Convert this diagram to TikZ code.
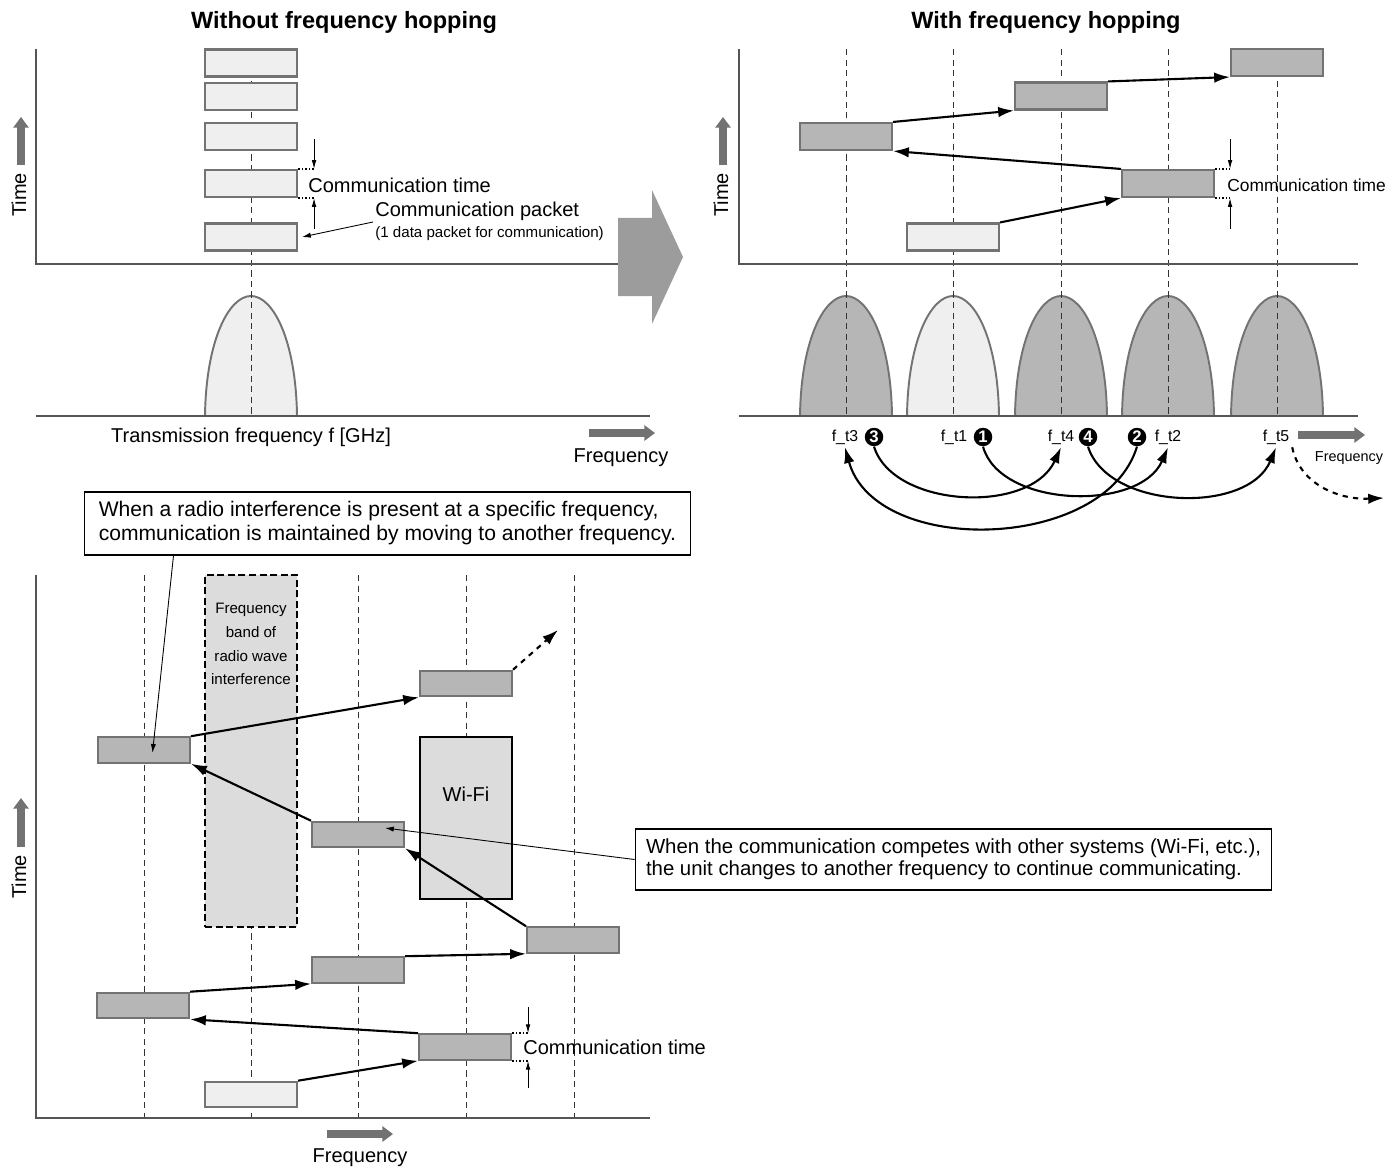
\documentclass[tikz,border=0pt]{standalone}
\usepackage{fontspec}
\setmainfont{Liberation Sans}
\usetikzlibrary{arrows.meta,positioning}
\definecolor{pktdark}{HTML}{B6B6B6}
\definecolor{pktlight}{HTML}{EFEFEF}
\definecolor{pktline}{HTML}{737373}
\definecolor{bandfill}{HTML}{DCDCDC}
\definecolor{axisline}{HTML}{555555}
\definecolor{tipgray}{HTML}{727272}
\definecolor{hopgray}{HTML}{9C9C9C}
\begin{document}
\begin{tikzpicture}[x=0.02cm,y=-0.02cm,
  pkt/.style={draw=pktline,line width=1.2pt,fill=pktdark,inner sep=0pt,minimum width=1.84cm,minimum height=0.54cm},
  pktlo/.style={pkt,minimum height=0.51cm},
  hop/.style={line width=1.2pt,-{Latex[length=9pt,width=6pt]}},
  ptr/.style={line width=0.5pt,-{Latex[length=5pt,width=3pt]}},
  dimarr/.style={line width=0.5pt,-{Latex[length=5pt,width=2.6pt]}},
  dotln/.style={line width=1pt,dash pattern=on 1pt off 1pt},
  guide/.style={draw=black!80,line width=0.5pt,dash pattern=on 3.5pt off 2.5pt},
  axisln/.style={draw=axisline,line width=0.9pt},
  bigtip/.style={draw=tipgray,line width=5pt,-{Triangle[length=6pt,width=8.5pt]}},
  bell/.style={draw=pktline,line width=1.1pt},
  band/.style={draw,fill=bandfill,line width=1.4pt,dash pattern=on 4pt off 2pt,inner sep=0pt},
  wifi/.style={draw,fill=bandfill,line width=1.4pt,inner sep=0pt},
  txt/.style={inner sep=0pt,font=\fontsize{11.4}{13.7}\selectfont},
  ttl/.style={inner sep=0pt,font=\fontsize{13.4}{16}\selectfont\bfseries},
  note/.style={inner sep=0pt,font=\fontsize{8.6}{13.6}\selectfont},
  fnote/.style={inner sep=1.5pt,font=\fontsize{9}{10}\selectfont},
  notebox/.style={draw,line width=0.6pt,align=left,inner sep=0pt},
  num/.style={circle,fill=black,text=white,inner sep=0pt,minimum size=0.37cm,font=\fontsize{9.5}{10}\selectfont\bfseries}
]
\useasboundingbox (0,0) rectangle (1399,1169);

\node[ttl] (ttlw) at (344,22) {Without frequency hopping};
\draw[bell,fill=pktlight] (205,416) .. controls (206,340) and (229,296) .. (251,296) .. controls (273,296) and (296,340) .. (297,416);
\draw[guide] (251,49) -- (251,416);
\draw[axisln] (36,49) -- (36,264) -- (640,264);
\draw[axisln] (36,416) -- (650,416);
\node[pkt,fill=pktlight] (w1) at (251,63) {};
\node[pkt,fill=pktlight] (w2) at (251,96.5) {};
\node[pkt,fill=pktlight] (w3) at (251,136.5) {};
\node[pkt,fill=pktlight] (w4) at (251,183.5) {};
\node[pkt,fill=pktlight] (w5) at (251,237) {};
\coordinate (wct1) at ([xshift=0.32cm]w4.north east);
\coordinate (wct2) at ([xshift=0.32cm]w4.south east);
\draw[dotln] (w4.north east) -- (wct1);
\draw[dotln] (w4.south east) -- (wct2);
\draw[dimarr] ([yshift=0.6cm]wct1) -- (wct1);
\draw[dimarr] ([yshift=-0.62cm]wct2) -- (wct2);
\node[txt,anchor=west] (wct) at (308,185) {Communication time};
\node[txt,anchor=west] (cpk) at (375,211) {Communication packet};
\node[note,anchor=west] (cpk2) at (375,234) {(1 data packet for communication)};
\draw[ptr] ([xshift=-0.04cm,yshift=-0.22cm]cpk.west) -- ([xshift=0.08cm]w5.east);
\node[txt,rotate=90] (tm1) at (19,195) {Time};
\draw[bigtip] (21,165) -- (21,117);
\node[txt] (tf) at (251,437) {Transmission frequency f [GHz]};
\draw[bigtip] (589,433) -- (655,433);
\node[txt] (fq1) at (621,458) {Frequency};
\fill[hopgray] (618,218) -- (652,218) -- (652,190) -- (683,257) -- (652,324) -- (652,296) -- (618,296) -- cycle;

\node[ttl] (ttlh) at (1046,22) {With frequency hopping};
\foreach \cx/\cf in {846/pktdark,953/pktlight,1061/pktdark,1168/pktdark,1277/pktdark}
  \draw[bell,fill=\cf] (\cx-46,416) .. controls (\cx-45,340) and (\cx-22,296) .. (\cx,296) .. controls (\cx+22,296) and (\cx+45,340) .. (\cx+46,416);
\foreach \cx in {846,953,1061,1168,1277}
  \draw[guide] (\cx,49) -- (\cx,416);
\draw[axisln] (739,49) -- (739,264) -- (1358,264);
\draw[axisln] (739,416) -- (1358,416);
\node[pkt,fill=pktlight] (h1) at (953,237) {};
\node[pkt] (h2) at (1168,183.5) {};
\node[pkt] (h3) at (846,136.5) {};
\node[pkt] (h4) at (1061,96) {};
\node[pkt] (h5) at (1277,62.5) {};
\draw[hop] (h1.north east) -- (h2.south west);
\draw[hop] (h2.north west) -- (h3.south east);
\draw[hop] (h3.north east) -- (h4.south west);
\draw[hop] (h4.north east) -- (h5.south west);
\coordinate (hct1) at ([xshift=0.3cm]h2.north east);
\coordinate (hct2) at ([xshift=0.3cm]h2.south east);
\draw[dotln] (h2.north east) -- (hct1);
\draw[dotln] (h2.south east) -- (hct2);
\draw[dimarr] ([yshift=0.6cm]hct1) -- (hct1);
\draw[dimarr] ([yshift=-0.62cm]hct2) -- (hct2);
\node[txt,anchor=west,font=\fontsize{9.9}{12}\selectfont] (hct) at (1227,185) {Communication time};
\node[txt,rotate=90] (tm2) at (721,195) {Time};
\draw[bigtip] (723,165) -- (723,117);
\node[fnote] (ft3) at (845,437) {f\_t3};
\node[num] (n3) at (874,437) {3};
\node[fnote] (ft1) at (954,437) {f\_t1};
\node[num] (n1) at (983,437) {1};
\node[fnote] (ft4) at (1061,437) {f\_t4};
\node[num] (n4) at (1088,437) {4};
\node[num] (n2) at (1137,437) {2};
\node[fnote] (ft2) at (1168,437) {f\_t2};
\node[fnote] (ft5) at (1276,437) {f\_t5};
\draw[hop] (n3.south) .. controls (893,508) and (1030,515) .. (ft4.south);
\draw[hop] (n1.south) .. controls (1000,508) and (1140,512) .. (ft2.south);
\draw[hop] (n4.south) .. controls (1108,510) and (1248,515) .. (ft5.south);
\draw[hop] (n2.south) .. controls (1105,552) and (875,557) .. (ft3.south);
\coordinate (fnext) at (1384,498);
\draw[hop,dashed] (ft5.south east) .. controls (1300,485) and (1340,500) .. (fnext);
\draw[bigtip] (1298,435) -- (1365,435);
\node[fnote,inner sep=0pt,font=\fontsize{8.2}{10}\selectfont] (fq2) at (1349,458) {Frequency};

\node[notebox,font=\fontsize{12}{13.7}\selectfont,minimum width=12.14cm,minimum height=1.26cm] (call1) at (387.5,523.5) {When a radio interference is present at a specific frequency,\\communication is maintained by moving to another frequency.};
\foreach \cx in {144,251,358,466,574}
  \draw[guide] (\cx,575) -- (\cx,1117);
\node[band,minimum width=1.84cm,minimum height=7.04cm] (band) at (251,751) {};
\node[note,align=center] (bandtxt) at (251,644) {Frequency\\band of\\radio wave\\interference};
\node[wifi,minimum width=1.84cm,minimum height=3.24cm] (wifi) at (466,818) {};
\node[txt] (wifitxt) at (466,794) {Wi-Fi};
\draw[axisln] (36,575) -- (36,1118) -- (650,1118);
\node[pktlo,fill=pktlight] (b0) at (251,1094.5) {};
\node[pktlo] (b1) at (465,1047) {};
\node[pktlo] (b2) at (143,1005.5) {};
\node[pktlo] (b3) at (358,970) {};
\node[pktlo] (b4) at (573,940) {};
\node[pktlo] (b5) at (358,834.5) {};
\node[pktlo] (b6) at (144,750) {};
\node[pktlo] (b7) at (466,683.5) {};
\draw[hop] (b0.north east) -- (b1.south west);
\draw[hop] (b1.north west) -- (b2.south east);
\draw[hop] (b2.north east) -- (b3.south west);
\draw[hop] (b3.north east) -- (b4.south west);
\draw[hop] (b4.north west) -- (b5.south east);
\draw[hop] (b5.north west) -- (b6.south east);
\draw[hop] (b6.north east) -- (b7.south west);
\coordinate (bnext) at (558,630);
\draw[hop,dashed] (b7.north east) -- (bnext);
\coordinate (bct1) at ([xshift=0.32cm]b1.north east);
\coordinate (bct2) at ([xshift=0.32cm]b1.south east);
\draw[dotln] (b1.north east) -- (bct1);
\draw[dotln] (b1.south east) -- (bct2);
\draw[dimarr] ([yshift=0.52cm]bct1) -- (bct1);
\draw[dimarr] ([yshift=-0.54cm]bct2) -- (bct2);
\node[txt,anchor=west] (bct) at (523,1047) {Communication time};
\node[notebox,font=\fontsize{11.6}{12.5}\selectfont,minimum width=12.74cm,minimum height=1.22cm] (call2) at (953.5,859.5) {When the communication competes with other systems (Wi-Fi, etc.),\\the unit changes to another frequency to continue communicating.};
\draw[ptr] ([xshift=1.8cm]call1.south west) -- ([xshift=0.17cm,yshift=0.22cm]b6.south);
\draw[ptr] (call2.west) -- ([xshift=0.54cm,yshift=0.13cm]b5.center);
\node[txt,rotate=90] (tm3) at (19,877) {Time};
\draw[bigtip] (21,847) -- (21,798);
\draw[bigtip] (327,1134) -- (393,1134);
\node[txt] (fq3) at (360,1158) {Frequency};
\end{tikzpicture}
\end{document}
